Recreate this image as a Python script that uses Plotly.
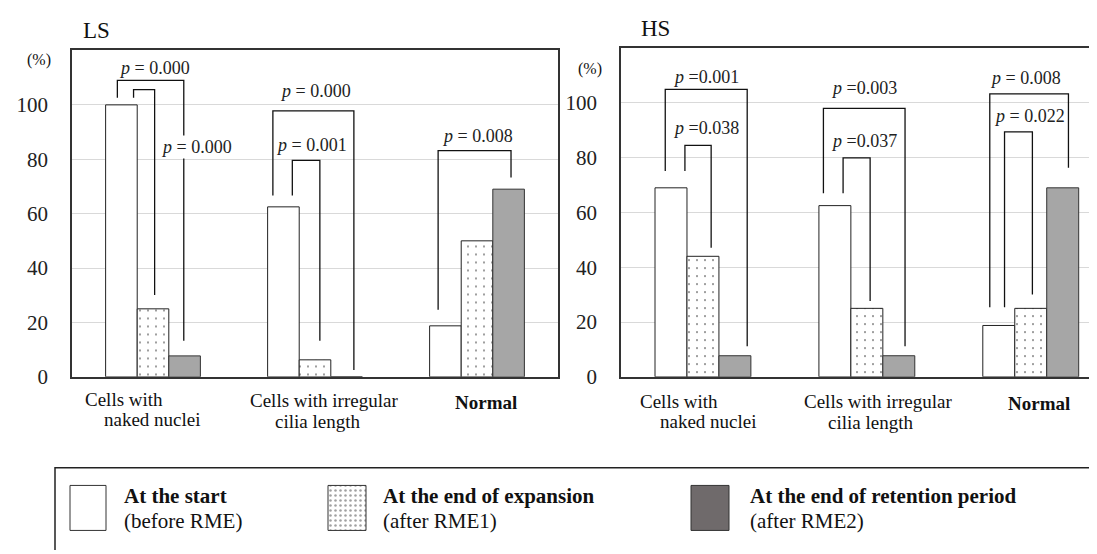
import plotly.graph_objects as go

W, H = 1097, 554

# ---------------- data ----------------
categories = ["Cells with naked nuclei", "Cells with irregular cilia length", "Normal"]
cat_x = [0, 1, 2]
series_names = ["At the start (before RME)",
                "At the end of expansion (after RME1)",
                "At the end of retention period (after RME2)"]
ls_start = [100, 62.5, 18.75]
ls_expansion = [25, 6.25, 50]
ls_retention = [7.7, 0, 69]
hs_start = [69, 62.5, 18.75]
hs_expansion = [44, 25, 25]
hs_retention = [7.7, 7.7, 69]
y_ticks = [0, 20, 40, 60, 80, 100]

# significance brackets: left x, left leg bottom, right x, right leg bottom, top
ls_br_xl = [-0.22, -0.12, 0.74, 0.86, 1.76]
ls_br_yl = [102.6, 102.6, 66.7, 66.7, 24.7]
ls_br_xr = [0.19, 0.01, 1.24, 1.03, 2.21]
ls_br_yr = [13.3, 30.1, 2.5, 13.3, 73.3]
ls_br_top = [109, 105.6, 97.8, 79.6, 83.2]
ls_p_text = ["<i>p</i> = 0.000", "<i>p</i> = 0.000", "<i>p</i> = 0.000", "<i>p</i> = 0.001", "<i>p</i> = 0.008"]
ls_p_x = [0.01, 0.27, 1.0, 0.98, 2.0]
ls_p_y = [113.4, 84.6, 105, 85.2, 88.5]
ls_p_bg = [False, True, False, False, False]

hs_br_xl = [-0.23, -0.11, 0.735, 0.855, 1.75, 1.84]
hs_br_yl = [75.1, 75.1, 67, 67, 25.4, 25.4]
hs_br_xr = [0.27, 0.05, 1.233, 1.02, 2.23, 2.01]
hs_br_yr = [11.2, 47.1, 11.2, 27.7, 76.3, 30.1]
hs_br_top = [104.9, 84.5, 98, 79.9, 103.3, 89.4]
hs_p_text = ["<i>p</i> =0.001", "<i>p</i> =0.038", "<i>p</i> =0.003", "<i>p</i> =0.037",
             "<i>p</i> = 0.008", "<i>p</i> = 0.022"]
hs_p_x = [0.02, 0.02, 0.98, 0.98, 1.97, 1.99]
hs_p_y = [109.3, 90.8, 105.5, 86.1, 109, 95.1]
hs_p_bg = [False, False, False, False, False, False]

FONT = "Liberation Serif, Times New Roman, serif"

fig = go.Figure()

def add_bars(start, expansion, retention, xa, ya):
    fig.add_trace(go.Bar(x=cat_x, y=start, name=series_names[0], xaxis=xa, yaxis=ya,
                         marker=dict(color="white", line=dict(color="#222", width=1)),
                         showlegend=False, hoverinfo="skip"))
    fig.add_trace(go.Bar(x=cat_x, y=expansion, name=series_names[1], xaxis=xa, yaxis=ya,
                         marker=dict(color="white", line=dict(color="#222", width=1),
                                     pattern=dict(shape=".", fgcolor="black", bgcolor="white",
                                                  size=8, solidity=0.05)),
                         showlegend=False, hoverinfo="skip"))
    fig.add_trace(go.Bar(x=cat_x, y=retention, name=series_names[2], xaxis=xa, yaxis=ya,
                         marker=dict(color="#a6a6a6", line=dict(color="#333", width=1)),
                         showlegend=False, hoverinfo="skip"))

add_bars(ls_start, ls_expansion, ls_retention, "x", "y")
add_bars(hs_start, hs_expansion, hs_retention, "x2", "y2")

shapes = []
annotations = []

def add_brackets(xl, yl, xr, yr, top, texts, px, py, bgs, xref, yref):
    for i in range(len(xl)):
        shapes.append(dict(type="path", xref=xref, yref=yref,
                           path=f"M {xl[i]},{yl[i]} L {xl[i]},{top[i]} L {xr[i]},{top[i]} L {xr[i]},{yr[i]}",
                           line=dict(color="#111", width=1.3), layer="above"))
        annotations.append(dict(x=px[i], y=py[i], xref=xref, yref=yref, text=texts[i],
                                showarrow=False, xanchor="center", yanchor="middle",
                                font=dict(family=FONT, size=18, color="#222"),
                                bgcolor="white" if bgs[i] else None, borderpad=1))

add_brackets(ls_br_xl, ls_br_yl, ls_br_xr, ls_br_yr, ls_br_top, ls_p_text, ls_p_x, ls_p_y, ls_p_bg, "x", "y")
add_brackets(hs_br_xl, hs_br_yl, hs_br_xr, hs_br_yr, hs_br_top, hs_p_text, hs_p_x, hs_p_y, hs_p_bg, "x2", "y2")

def txt(x, y, s, size, anchor="center", bold=False):
    annotations.append(dict(x=x, y=y, xref="x3", yref="y3",
                            text=f"<b>{s}</b>" if bold else s, showarrow=False,
                            xanchor=anchor, yanchor="middle",
                            font=dict(family=FONT, size=size, color="#111")))

# panel titles and unit labels
txt(88, 23, "LS", 23)
txt(647, 21, "HS", 23)
txt(31, 53, "(%)", 16)
txt(582, 62, "(%)", 16)

# category labels (split in lines as in the figure)
txt(116, 400, "Cells with", 19)
txt(144, 421, "naked nuclei", 19)
txt(316, 401, "Cells with irregular", 19)
txt(309, 423, "cilia length", 19)
txt(478, 403, "Normal", 19, bold=True)
txt(671, 402, "Cells with", 19)
txt(700, 423, "naked nuclei", 19)
txt(870, 402, "Cells with irregular", 19)
txt(862, 424, "cilia length", 19)
txt(1031, 404, "Normal", 19, bold=True)

# custom legend
shapes.append(dict(type="rect", xref="x3", yref="y3", x0=47, y0=470, x1=1110, y1=600,
                   line=dict(color="#222", width=1.5), fillcolor="rgba(0,0,0,0)"))
sw_x = [[62, 98], [320, 358], [683, 721]]
sw_y = [488, 534]
sw_fill = ["white", "white", "#6f6a6b"]
for i in range(3):
    x0, x1 = sw_x[i]
    kw = dict(fillcolor=sw_fill[i])
    if i == 1:
        kw["fillpattern"] = dict(shape=".", fgcolor="#444", bgcolor="white", size=5, solidity=0.2)
    fig.add_trace(go.Scatter(x=[x0, x1, x1, x0, x0], y=[sw_y[0], sw_y[0], sw_y[1], sw_y[1], sw_y[0]],
                             mode="lines", fill="toself", line=dict(color="#333", width=1),
                             xaxis="x3", yaxis="y3", showlegend=False, hoverinfo="skip", **kw))
leg_bold = ["At the start", "At the end of expansion", "At the end of retention period"]
leg_sub = ["(before RME)", "(after RME1)", "(after RME2)"]
leg_tx = [114, 373, 740]
for i in range(3):
    txt(leg_tx[i], 499, leg_bold[i], 21, anchor="left", bold=True)
    txt(leg_tx[i], 524, leg_sub[i], 21, anchor="left")

axis_line = dict(showline=True, linecolor="#333", linewidth=1.5)
ydom_bottom = 1 - 377 / H

fig.update_layout(
    width=W, height=H, autosize=False,
    margin=dict(l=0, r=0, t=0, b=0),
    paper_bgcolor="white", plot_bgcolor="rgba(0,0,0,0)",
    barmode="group", bargap=0.415, bargroupgap=0,
    font=dict(family=FONT, color="#222"),
    xaxis=dict(domain=[64 / W, 550 / W], range=[-0.5, 2.5], showticklabels=False, showgrid=False,
               zeroline=False, mirror=True, ticks="", **axis_line),
    yaxis=dict(domain=[ydom_bottom, 1 - 43.4 / H], range=[0, 120], tickvals=y_ticks,
               showgrid=True, gridcolor="#d9d9d9", gridwidth=1, zeroline=False, mirror=True,
               ticks="", ticklabelstandoff=18, tickfont=dict(family=FONT, size=21, color="#222"),
               **axis_line),
    xaxis2=dict(domain=[613 / W, 1], range=[-0.5, 2.453], showticklabels=False, showgrid=False,
                zeroline=False, mirror=True, ticks="", anchor="y2", **axis_line),
    yaxis2=dict(domain=[ydom_bottom, 1 - 41 / H], range=[0, 120], tickvals=y_ticks,
                showgrid=True, gridcolor="#d9d9d9", gridwidth=1, zeroline=False, mirror=False,
                ticks="", ticklabelstandoff=18, tickfont=dict(family=FONT, size=21, color="#222"),
                anchor="x2", **axis_line),
    xaxis3=dict(domain=[0, 1], range=[0, W], visible=False, anchor="y3"),
    yaxis3=dict(domain=[0, 1], range=[H, 0], visible=False, anchor="x3"),
    shapes=shapes, annotations=annotations,
)

fig.write_html("out.html")
